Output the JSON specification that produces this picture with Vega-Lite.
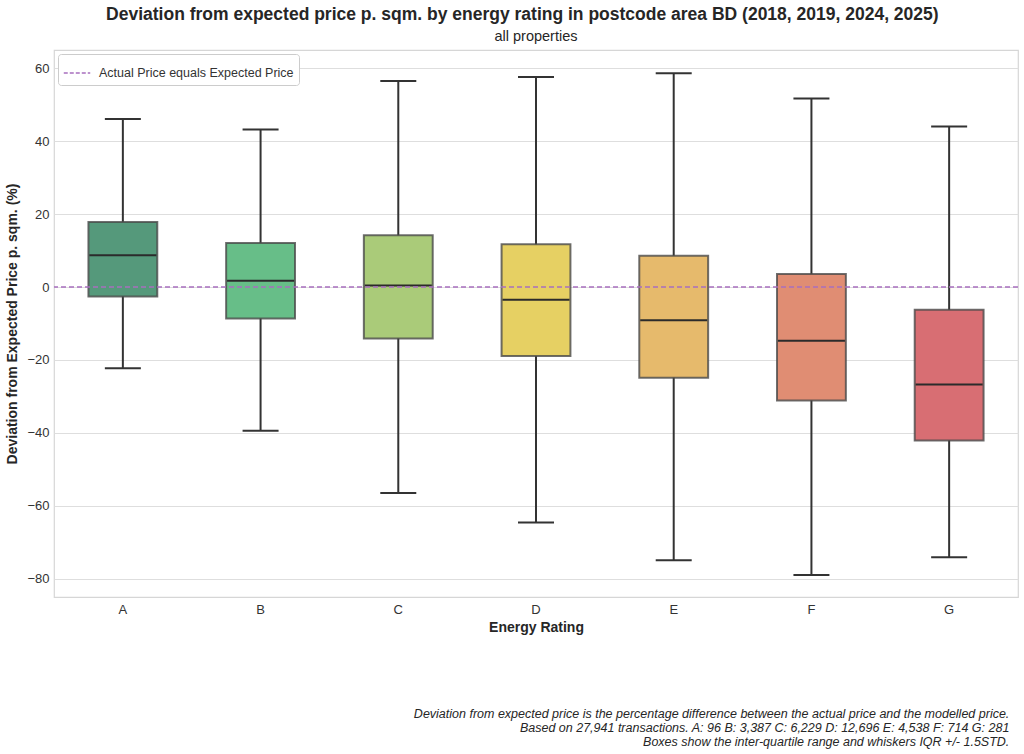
{
  "$schema": "https://vega.github.io/schema/vega-lite/v6.json",
  "background": "white",
  "padding": {"left": 5, "top": 6, "right": 6, "bottom": 4},
  "config": {
    "font": "Liberation Sans",
    "view": {"stroke": "#d6d6d6", "strokeWidth": 1.2},
    "concat": {"spacing": 0}
  },
  "title": {
    "text": "Deviation from expected price p. sqm. by energy rating in postcode area BD (2018, 2019, 2024, 2025)",
    "fontSize": 17.5,
    "fontWeight": "bold",
    "color": "#262626",
    "anchor": "middle",
    "dx": 10,
    "offset": 4
  },
  "vconcat": [
    {
      "title": {
        "text": [
          "Deviation from expected price is the percentage difference between the actual price and the modelled price.",
          "Based on 27,941 transactions. A: 96 B: 3,387 C: 6,229 D: 12,696 E: 4,538 F: 714 G: 281",
          "Boxes show the inter-quartile range and whiskers IQR +/- 1.5STD."
        ],
        "orient": "bottom",
        "anchor": "end",
        "align": "right",
        "fontStyle": "italic",
        "fontWeight": "normal",
        "fontSize": 12.5,
        "lineHeight": 14,
        "offset": 73,
        "dx": -10,
        "color": "#262626"
      },
      "vconcat": [
        {
          "width": 964,
          "height": 547,
          "title": {
            "text": "all properties",
            "fontSize": 14.5,
            "fontWeight": "normal",
            "color": "#262626",
            "anchor": "middle",
            "offset": 6
          },
          "data": {
            "values": [
              {"rating": "A", "lower": -22.3, "q1": -2.6, "median": 8.7, "q3": 17.8, "upper": 46.1},
              {"rating": "B", "lower": -39.4, "q1": -8.6, "median": 1.7, "q3": 12.1, "upper": 43.2},
              {"rating": "C", "lower": -56.5, "q1": -14.1, "median": 0.4, "q3": 14.2, "upper": 56.5},
              {"rating": "D", "lower": -64.6, "q1": -18.9, "median": -3.5, "q3": 11.7, "upper": 57.6},
              {"rating": "E", "lower": -74.9, "q1": -24.9, "median": -9.1, "q3": 8.6, "upper": 58.6},
              {"rating": "F", "lower": -79.0, "q1": -31.1, "median": -14.7, "q3": 3.6, "upper": 51.7},
              {"rating": "G", "lower": -74.1, "q1": -42.1, "median": -26.7, "q3": -6.2, "upper": 44.0}
            ]
          },
          "layer": [
            {
              "mark": {"type": "rule", "color": "#333333", "strokeWidth": 2},
              "encoding": {
                "x": {
                  "field": "rating",
                  "type": "nominal",
                  "scale": {"paddingInner": 0, "paddingOuter": 0},
                  "axis": {
                    "title": "Energy Rating",
                    "labelAngle": 0,
                    "ticks": false,
                    "domain": false,
                    "labelFontSize": 13,
                    "labelColor": "#333333",
                    "labelPadding": 6,
                    "titleFontSize": 14,
                    "titleFontWeight": "bold",
                    "titleColor": "#262626",
                    "titlePadding": 4
                  }
                },
                "y": {
                  "field": "lower",
                  "type": "quantitative",
                  "scale": {"domain": [-85, 65], "nice": false, "zero": false},
                  "axis": {
                    "title": "Deviation from Expected Price p. sqm. (%)",
                    "values": [-80, -60, -40, -20, 0, 20, 40, 60],
                    "grid": true,
                    "gridColor": "#dedede",
                    "gridWidth": 1.2,
                    "ticks": false,
                    "domain": false,
                    "labelFontSize": 13,
                    "labelColor": "#333333",
                    "labelPadding": 5,
                    "titleFontSize": 14,
                    "titleFontWeight": "bold",
                    "titleColor": "#262626",
                    "titlePadding": 7
                  }
                },
                "y2": {"field": "upper"}
              }
            },
            {
              "mark": {"type": "tick", "color": "#333333", "size": 36, "thickness": 2, "opacity": 1},
              "encoding": {
                "x": {"field": "rating", "type": "nominal"},
                "y": {"field": "upper", "type": "quantitative"}
              }
            },
            {
              "mark": {"type": "tick", "color": "#333333", "size": 36, "thickness": 2, "opacity": 1},
              "encoding": {
                "x": {"field": "rating", "type": "nominal"},
                "y": {"field": "lower", "type": "quantitative"}
              }
            },
            {
              "mark": {"type": "bar", "width": {"band": 0.5}, "stroke": "#4a4a4a", "strokeWidth": 2, "strokeOpacity": 0.8, "fillOpacity": 1},
              "encoding": {
                "x": {"field": "rating", "type": "nominal"},
                "y": {"field": "q1", "type": "quantitative"},
                "y2": {"field": "q3"},
                "fill": {
                  "field": "rating",
                  "type": "nominal",
                  "scale": {"range": ["#55997b", "#67be88", "#aacb79", "#e6d063", "#e6ba6c", "#e08d73", "#d86e73"]},
                  "legend": null
                }
              }
            },
            {
              "mark": {"type": "tick", "color": "#2b2b2b", "size": 67, "thickness": 2, "opacity": 1},
              "encoding": {
                "x": {"field": "rating", "type": "nominal"},
                "y": {"field": "median", "type": "quantitative"}
              }
            },
            {
              "data": {"values": [{"ref": 0, "label": "Actual Price equals Expected Price"}]},
              "mark": {"type": "rule", "strokeDash": [5, 3], "strokeWidth": 1.5},
              "encoding": {
                "y": {"field": "ref", "type": "quantitative"},
                "stroke": {
                  "field": "label",
                  "type": "nominal",
                  "scale": {"range": ["#a86fbf"]},
                  "legend": {
                    "title": null,
                    "orient": "top-left",
                    "offset": 4,
                    "fillColor": "white",
                    "strokeColor": "#cccccc",
                    "cornerRadius": 3,
                    "padding": 5,
                    "labelFontSize": 12.5,
                    "labelLimit": 400,
                    "labelOffset": 8,
                    "labelColor": "#333333",
                    "symbolType": "stroke",
                    "symbolStrokeWidth": 1.5,
                    "symbolDash": [4, 2],
                    "symbolSize": 700
                  }
                }
              }
            }
          ]
        }
      ]
    }
  ]
}
